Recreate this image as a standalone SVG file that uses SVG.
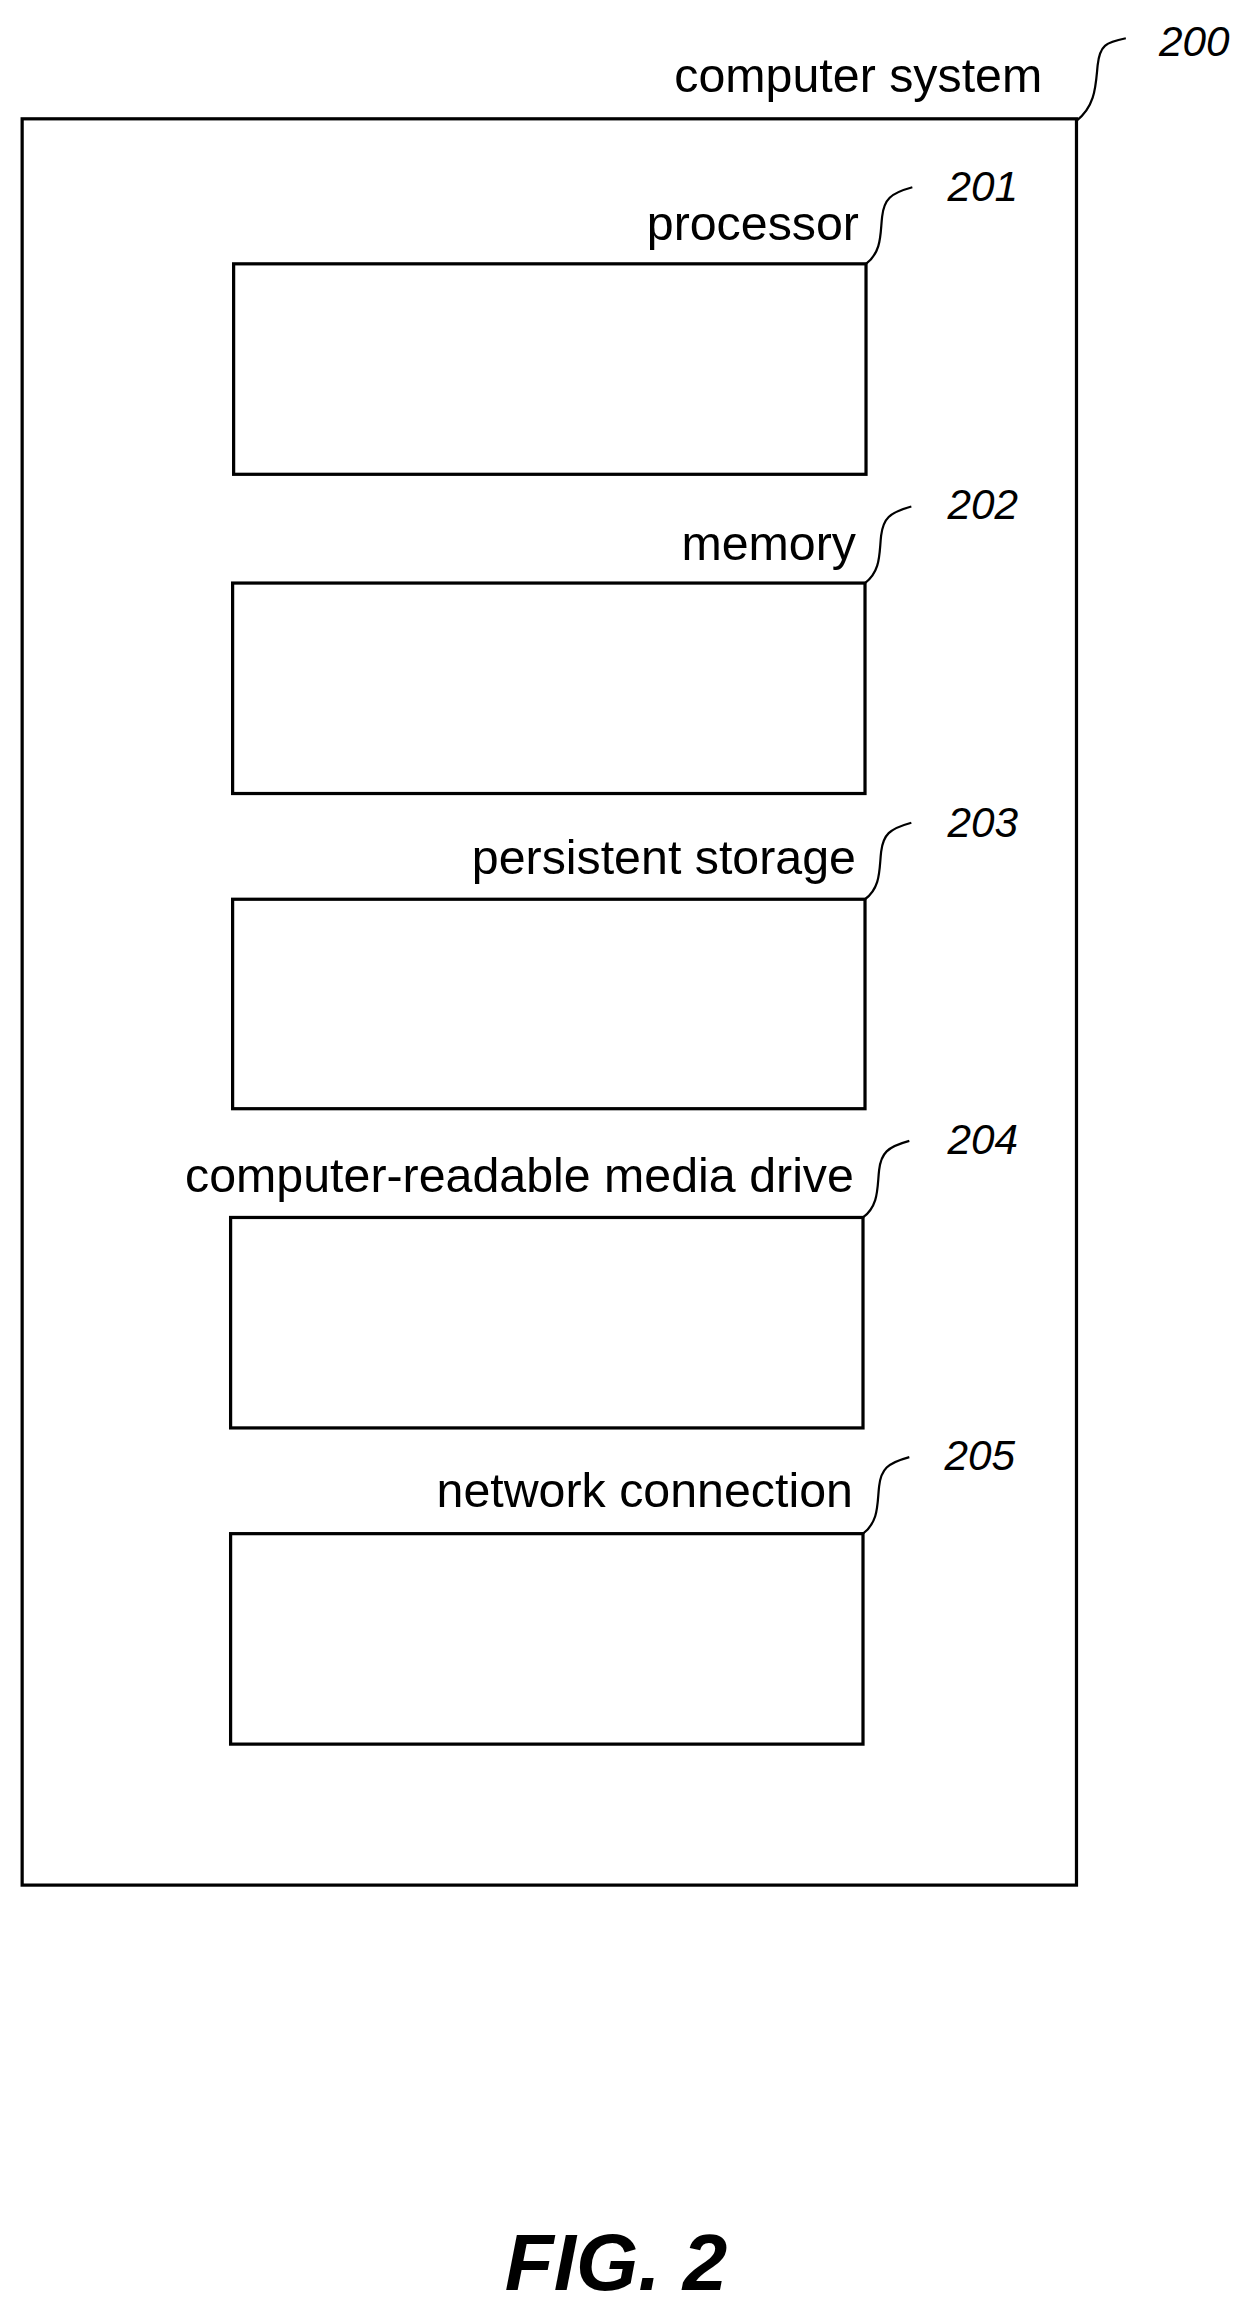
<svg xmlns="http://www.w3.org/2000/svg" width="1247" height="2322" viewBox="0 0 1247 2322">
<style>
.box{fill:#fff;stroke:#000;stroke-width:3.2}
.lead{fill:none;stroke:#000;stroke-width:2.2}
.lbl{font-family:"Liberation Sans",Arial,sans-serif;font-size:48px;text-anchor:end;fill:#000}
.num{font-family:"Liberation Sans",Arial,sans-serif;font-size:42px;font-style:italic;fill:#000}
.fig{font-family:"Liberation Sans",Arial,sans-serif;font-size:80px;font-style:italic;font-weight:bold;text-anchor:middle;fill:#000}
</style>
<rect width="1247" height="2322" fill="#fff"/>
<g transform="scale(1.007)">
<g id="n200">
<rect class="box" x="22" y="118" width="1047" height="1754"/>
<text class="lbl" x="1035" y="91">computer system</text>
<text class="num" x="1151" y="56">200</text>
</g>
<g id="n201">
<rect class="box" x="232" y="262" width="628" height="209"/>
<text class="lbl" x="853" y="238">processor</text>
<text class="num" x="941" y="200">201</text>
</g>
<g id="n202">
<rect class="box" x="231" y="579" width="628" height="209"/>
<text class="lbl" x="850" y="556">memory</text>
<text class="num" x="941" y="515">202</text>
</g>
<g id="n203">
<rect class="box" x="231" y="893" width="628" height="208"/>
<text class="lbl" x="850" y="868">persistent storage</text>
<text class="num" x="941" y="831">203</text>
</g>
<g id="n204">
<rect class="box" x="229" y="1209" width="628" height="209"/>
<text class="lbl" x="848" y="1184">computer-readable media drive</text>
<text class="num" x="941" y="1146">204</text>
</g>
<g id="n205">
<rect class="box" x="229" y="1523" width="628" height="209"/>
<text class="lbl" x="847" y="1497">network connection</text>
<text class="num" x="938" y="1460">205</text>
</g>
<g id="connectors">
<path class="lead" d="M1069 120 C1088 105 1088 85 1090 65 S1098 42 1118 38"/>
<path class="lead" d="M860 262 C876 250 874 232 876 215 S884 192 906 186"/>
<path class="lead" d="M859 579 C875 567 873 549 875 532 S883 509 905 503"/>
<path class="lead" d="M859 893 C875 881 873 863 875 846 S883 823 905 817"/>
<path class="lead" d="M857 1209 C873 1197 871 1179 873 1162 S881 1139 903 1133"/>
<path class="lead" d="M857 1523 C873 1511 871 1493 873 1476 S881 1453 903 1447"/>
</g>
</g>
<text class="fig" x="616" y="2290">FIG. 2</text>
</svg>
